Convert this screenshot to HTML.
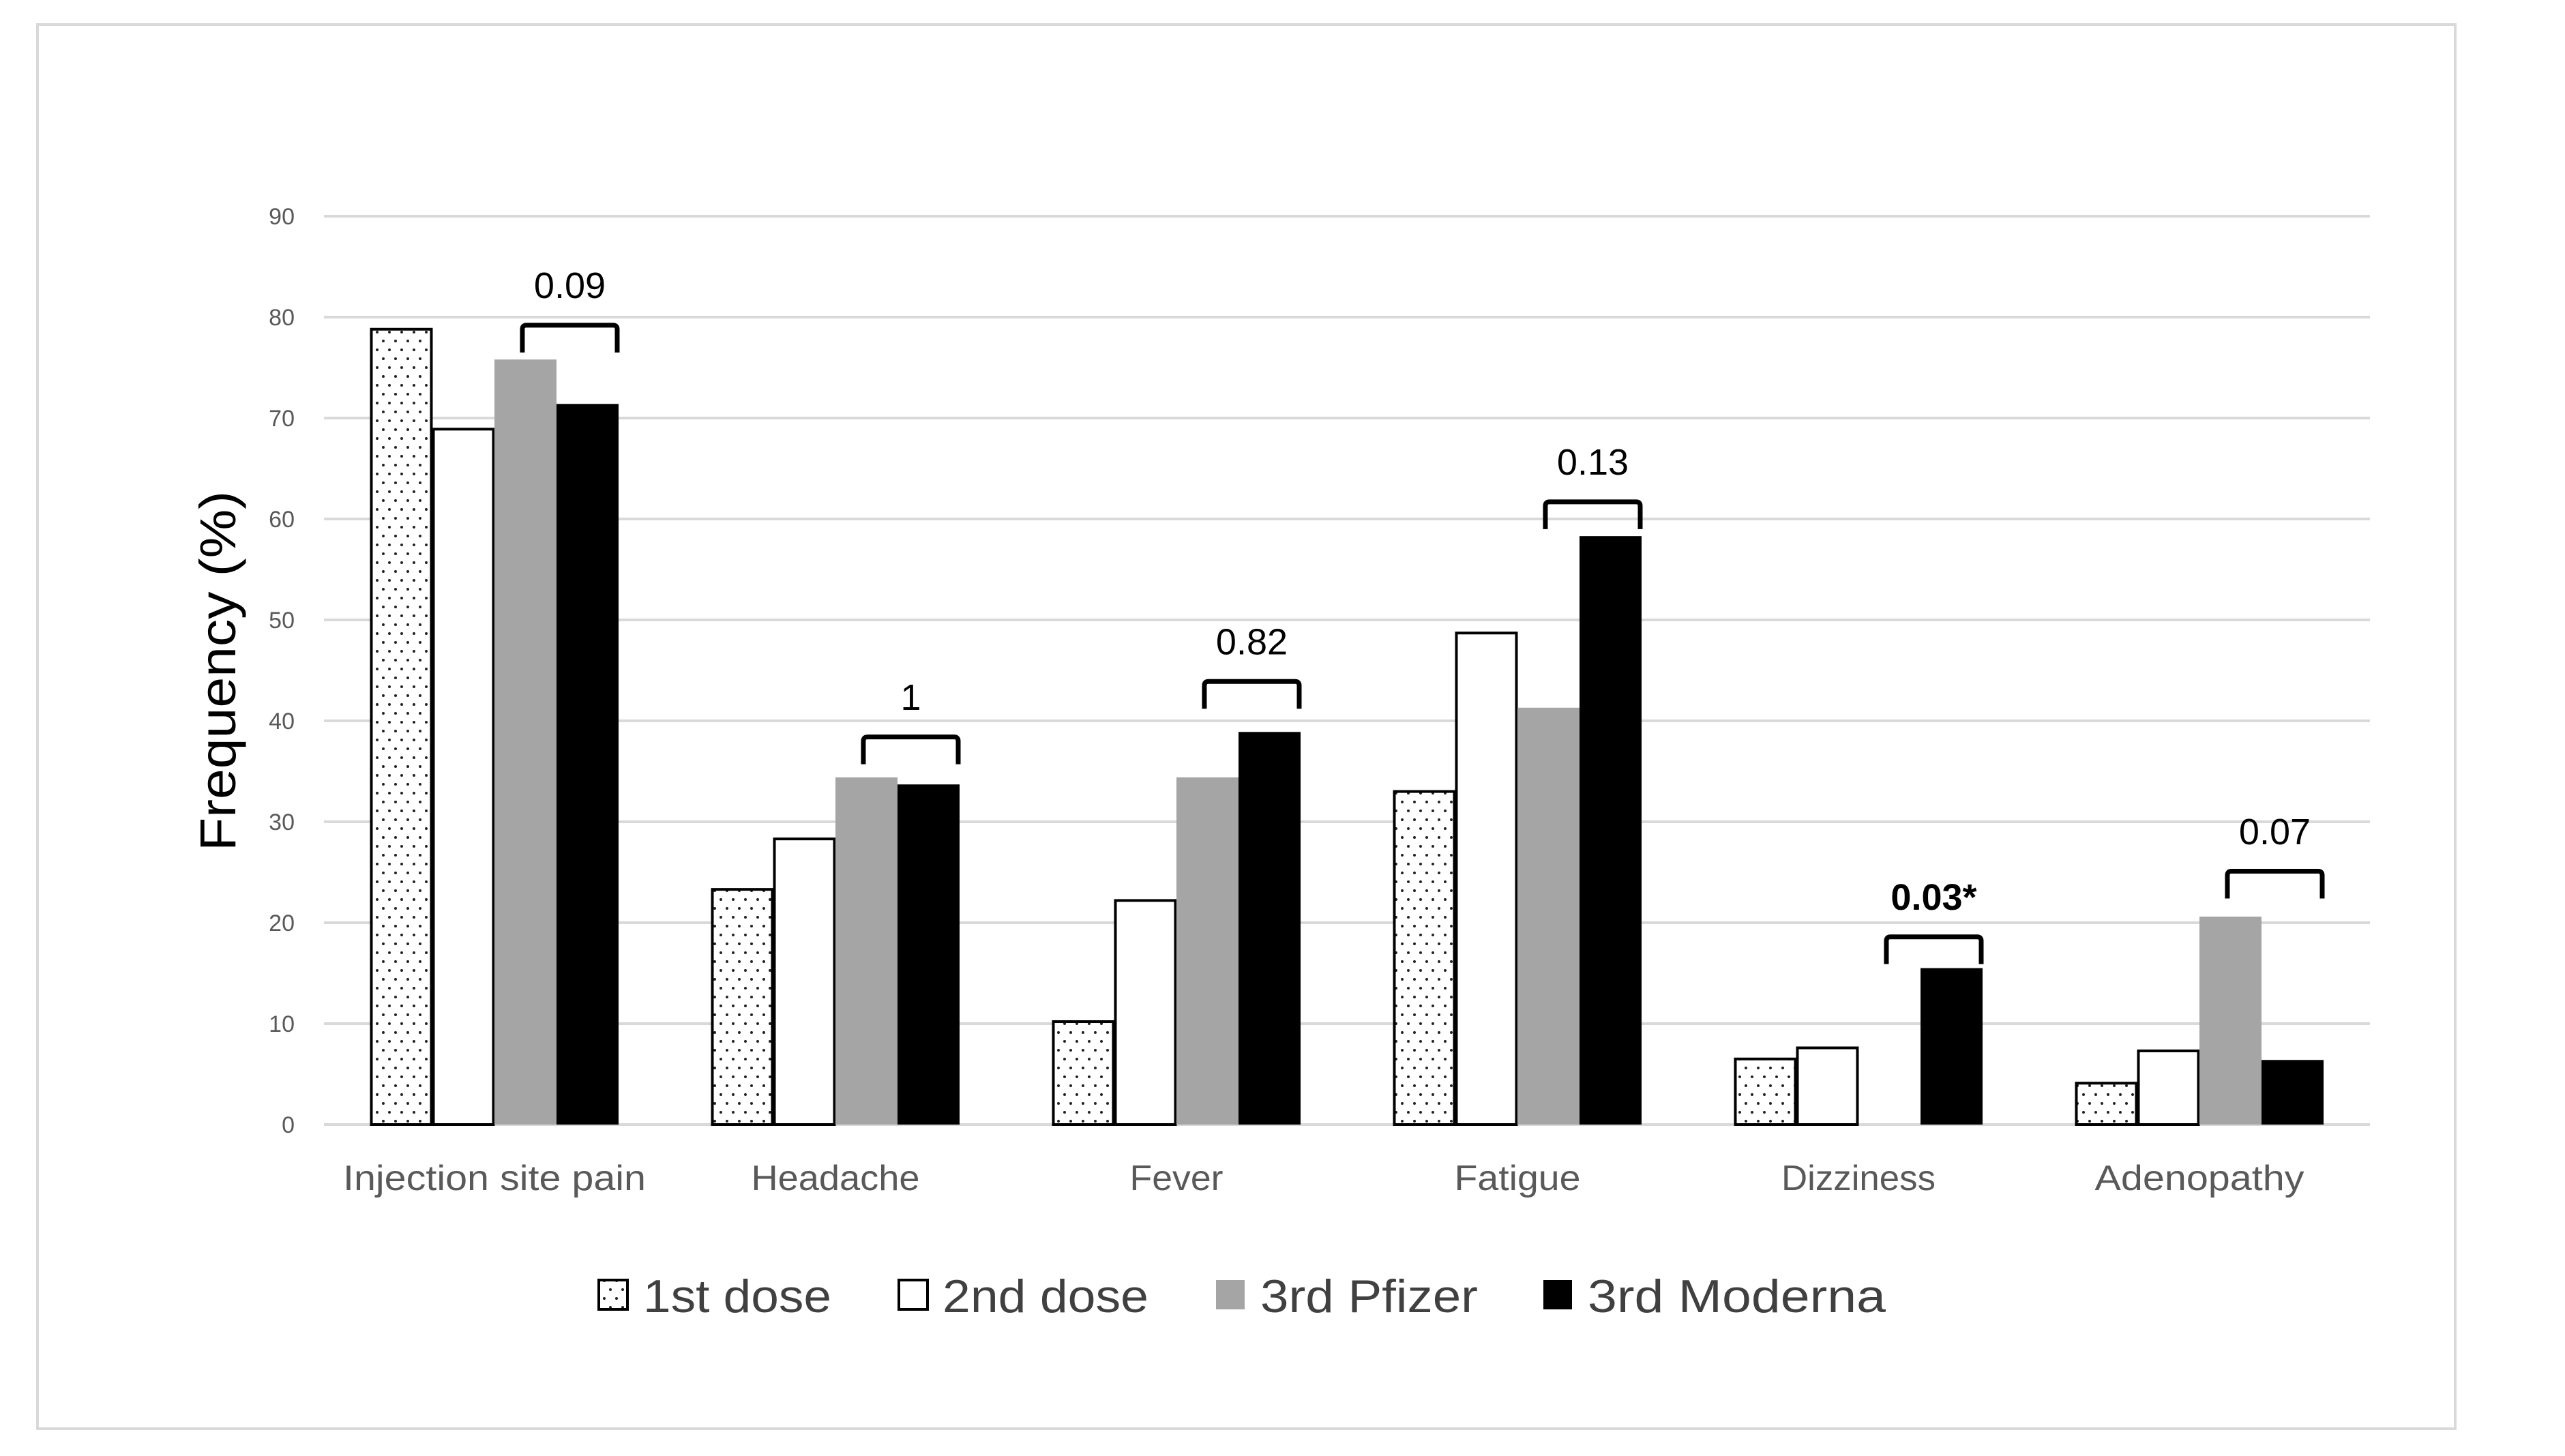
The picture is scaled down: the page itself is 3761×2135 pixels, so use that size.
<!DOCTYPE html>
<html><head><meta charset="utf-8"><style>
html,body{margin:0;padding:0;background:#fff;}
svg{display:block;font-family:"Liberation Sans",sans-serif;}
</style></head><body>
<svg id="chart" width="3761" height="2135" viewBox="0 0 3761 2135">
<defs>
<pattern id="dots" width="18" height="26" patternUnits="userSpaceOnUse">
<rect width="18" height="26" fill="#fff"/>
<circle cx="4" cy="6" r="2" fill="#222"/>
<circle cx="13" cy="19" r="2" fill="#222"/>
</pattern>
</defs>
<rect x="55" y="36" width="3545" height="2059" fill="#fff" stroke="#d9d9d9" stroke-width="4"/>
<g id="grid"></g><g id="bars"></g><g id="brackets"></g><g id="labels"></g>
<text x="0" y="0" transform="translate(345,984) rotate(-90)" text-anchor="middle" font-size="74" fill="#000" textLength="528" lengthAdjust="spacingAndGlyphs">Frequency (%)</text>
<g id="legend"></g>
</svg>
<script>
const categories=["Injection site pain","Headache","Fever","Fatigue","Dizziness","Adenopathy"];
const dose1=[78.8,23.3,10.2,33.0,6.5,4.1];
const dose2=[68.9,28.3,22.2,48.7,7.6,7.3];
const pfizer3=[75.8,34.4,34.4,41.3,0,20.6];
const moderna3=[71.4,33.7,38.9,58.3,15.5,6.4];
const pValues=["0.09","1","0.82","0.13","0.03*","0.07"];
const bracketTop=[79.2,38.4,43.9,61.7,18.6,25.1];
const yTicks=[0,10,20,30,40,50,60,70,80,90];
const seriesNames=["1st dose","2nd dose","3rd Pfizer","3rd Moderna"];

const NS="http://www.w3.org/2000/svg";
const x0=475,x1=3475,y0=1649,y90=317;
const catW=(x1-x0)/categories.length, barW=91;
const yS=v=>y0-(v/90)*(y0-y90);
const catX=i=>x0+i*catW;
const barX=(i,s)=>catX(i)+(catW-4*barW)/2+s*barW;
const labelW=[444,247,137,185,226,307];
function mk(tag,attrs,parent){const e=document.createElementNS(NS,tag);for(const k in attrs)e.setAttribute(k,attrs[k]);parent.appendChild(e);return e;}
const grid=document.getElementById('grid');
yTicks.forEach(t=>{
 const l=mk('line',{x1:x0,x2:x1,y1:yS(t),y2:yS(t),stroke:'#d9d9d9','stroke-width':4},grid);
 
 
 const tx=mk('text',{x:432,y:yS(t)+12,'text-anchor':'end','font-size':34,fill:'#595959'},grid);
 tx.textContent=t;
 
 
});
const bars=document.getElementById('bars');
const series=[dose1,dose2,pfizer3,moderna3];
const fills=['url(#dots)','#fff','#a5a5a5','#000'];
categories.forEach((c,i)=>{
 series.forEach((arr,s)=>{
  const v=arr[i]; if(v<=0) return;
  const r=mk('rect',{x:barX(i,s)+(s<2?1.5:0),y:yS(v),width:barW-(s<2?3:0),height:y0-yS(v),fill:fills[s]},bars);
  if(s<2){r.setAttribute('stroke','#000');r.setAttribute('stroke-width',4);}
  
  
 });
 const lab=mk('text',{x:catX(i)+catW/2,y:1745,'text-anchor':'middle','font-size':52,fill:'#595959',textLength:labelW[i],lengthAdjust:'spacingAndGlyphs'},document.getElementById('labels'));
 lab.textContent=c;
 
 
 const bx1=barX(i,2)+barW*0.45, bx2=barX(i,3)+barW-2, by=yS(bracketTop[i]);
 const p=mk('path',{d:`M${bx1},${by+40} L${bx1},${by+6} Q${bx1},${by} ${bx1+6},${by} L${bx2-6},${by} Q${bx2},${by} ${bx2},${by+6} L${bx2},${by+40}`,fill:'none',stroke:'#000','stroke-width':7},document.getElementById('brackets'));
 
 
 const pt=mk('text',{x:(bx1+bx2)/2,y:yS(bracketTop[i]+3.9)+18,'text-anchor':'middle','font-size':54,fill:'#000','font-weight':pValues[i].includes('*')?'bold':'normal'},document.getElementById('brackets'));
 pt.textContent=pValues[i];
 
 
});
const leg=document.getElementById('legend');
const boxX=[878,1318,1783,2263], txtX=[943,1382,1848,2328], txtW=[276,302,319,437];
seriesNames.forEach((n,s)=>{
 const g=mk('g',{},leg);
 
 
 const b=mk('rect',{x:boxX[s],y:1877,width:42,height:43,fill:fills[s]},g);
 if(s<2){b.setAttribute('stroke','#000');b.setAttribute('stroke-width',4);}
 const t=mk('text',{x:txtX[s],y:1924,'font-size':68,fill:'#404040',textLength:txtW[s],lengthAdjust:'spacingAndGlyphs'},g);
 t.textContent=n;
});
</script>
</body></html>
